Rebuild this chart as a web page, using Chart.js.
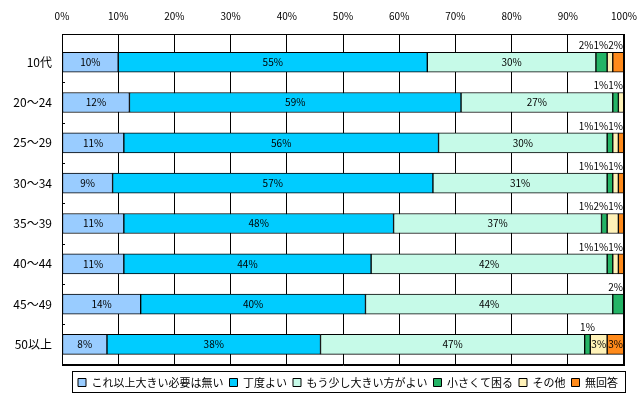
<!DOCTYPE html>
<html>
<head>
<meta charset="utf-8">
<script src="https://cdn.jsdelivr.net/npm/chart.js@4.4.0/dist/chart.umd.min.js"></script>
<style>
  html, body { margin: 0; padding: 0; background: #fff; }
</style>
</head>
<body>
<canvas id="myChart" width="640" height="399"></canvas>
<script>
// rows, top to bottom
const categories = ['10代', '20～24', '25～29', '30～34', '35～39', '40～44', '45～49', '50以上'];
// answers in percent for each row
const noNeedBigger = [10, 12, 11, 9, 11, 11, 14, 8];
const justRight = [55, 59, 56, 57, 48, 44, 40, 38];
const bitBigger = [30, 27, 30, 31, 37, 42, 44, 47];
const tooSmall = [2, 1, 1, 1, 1, 1, 2, 1];
const other = [1, 1, 1, 1, 2, 1, 0, 3];
const noAnswer = [2, 0, 1, 1, 1, 1, 0, 3];
const seriesNames = ['これ以上大きい必要は無い', '丁度よい', 'もう少し大きい方がよい', '小さくて困る', 'その他', '無回答'];
const seriesColors = ['#99CCFF', '#00CCFF', '#C6FAE8', '#24B466', '#FFF2B8', '#FF8A1A'];
const xTickStep = 10;

const FONT = '"Noto Sans CJK JP", sans-serif';
Chart.defaults.font.family = FONT;
Chart.defaults.color = '#000';

const allSeries = [noNeedBigger, justRight, bitBigger, tooSmall, other, noAnswer];

// value labels: inside the segment, or packed above the bar end when too narrow
const barLabels = {
  id: 'barLabels',
  afterDatasetsDraw(chart) {
    const ctx = chart.ctx;
    ctx.save();
    ctx.font = '10px ' + FONT;
    ctx.fillStyle = '#000';
    ctx.textBaseline = 'middle';
    ctx.textAlign = 'center';
    categories.forEach((c, i) => {
      const small = [];
      allSeries.forEach((vals, d) => {
        const v = vals[i];
        if (!v) return;
        const bar = chart.getDatasetMeta(d).data[i];
        const cx = (bar.base + bar.x) / 2;
        if (v >= 3) ctx.fillText(v + '%', cx, bar.y);
        else small.push({ text: v + '%', cx: cx, top: bar.y - bar.height / 2 });
      });
      let limit = chart.chartArea.right - 1;
      for (let k = small.length - 1; k >= 0; k--) {
        const s = small[k];
        const w = ctx.measureText(s.text).width;
        const right = Math.min(s.cx + w / 2, limit);
        ctx.fillText(s.text, right - w / 2, s.top - 7);
        limit = right - w;
      }
    });
    ctx.restore();
  }
};

// plot box, small category ticks and the legend box
const frame = {
  id: 'frame',
  afterDraw(chart) {
    const ctx = chart.ctx;
    const a = chart.chartArea;
    ctx.save();
    ctx.strokeStyle = '#000';
    ctx.lineWidth = 1;
    ctx.strokeRect(Math.round(a.left) + 0.5, Math.round(a.top) + 0.5,
      Math.round(a.right - a.left) - 1, Math.round(a.bottom - a.top) - 1);
    const ys = chart.scales.y;
    ctx.beginPath();
    for (let i = 0; i < categories.length - 1; i++) {
      const y = Math.round(ys.getPixelForValue(i + 0.5)) + 0.5;
      ctx.moveTo(a.left, y);
      ctx.lineTo(a.left + 3, y);
    }
    ctx.stroke();
    const lg = chart.legend;
    const hb = lg.legendHitBoxes;
    const l = Math.round(hb[0].left - 6);
    const r = Math.round(hb[hb.length - 1].left + hb[hb.length - 1].width + 7);
    ctx.strokeRect(l + 0.5, Math.round(lg.top) + 0.5, r - l, 21);
    ctx.restore();
  }
};

const ctx = document.getElementById('myChart').getContext('2d');
const myChart = new Chart(ctx, {
  type: 'bar',
  data: {
    datasets: allSeries.map((vals, d) => ({
      label: seriesNames[d],
      data: vals.map((v, i) => ({ x: v || null, y: i })),
      backgroundColor: seriesColors[d],
      borderColor: '#000',
      borderWidth: 1,
      borderSkipped: false,
      barThickness: 20,
      stack: 'all'
    }))
  },
  options: {
    indexAxis: 'y',
    responsive: false,
    animation: false,
    devicePixelRatio: 1,
    layout: { padding: { left: 0, right: 16, top: 0, bottom: 1 } },
    scales: {
      x: {
        type: 'linear',
        position: 'top',
        stacked: true,
        min: 0,
        max: 100,
        ticks: { stepSize: xTickStep, padding: 12, font: { size: 10 }, callback: v => v + '%' },
        grid: { color: '#000', lineWidth: 1, drawTicks: false },
        border: { color: '#000' },
        afterFit: s => { s.height = 34; s.paddingLeft = 0; s.paddingRight = 0; }
      },
      x2: {
        type: 'linear',
        position: 'bottom',
        min: 0,
        max: 100,
        grid: { display: false, drawTicks: false },
        ticks: { display: false },
        border: { color: '#000' },
        afterFit: s => { s.height = 6; s.paddingLeft = 0; s.paddingRight = 0; }
      },
      y: {
        type: 'linear',
        reverse: true,
        offset: false,
        min: -0.70,
        max: 7.51,
        afterBuildTicks: s => { s.ticks = categories.map((c, i) => ({ value: i })); },
        ticks: { padding: 10, font: { size: 12 }, autoSkip: false, callback: v => categories[v] },
        grid: { display: false, drawTicks: false, offset: false },
        border: { color: '#000' },
        afterFit: s => { s.width = 62; s.paddingTop = 0; s.paddingBottom = 0; }
      }
    },
    plugins: {
      legend: {
        position: 'bottom',
        align: 'end',
        labels: { boxWidth: 8, boxHeight: 8, padding: 6, font: { size: 11 }, color: '#000' }
      },
      tooltip: { enabled: false }
    }
  },
  plugins: [barLabels, frame]
});
</script>
</body>
</html>
